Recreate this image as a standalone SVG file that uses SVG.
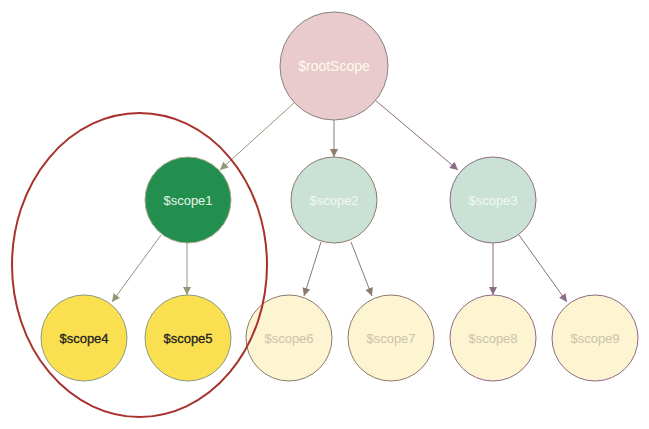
<svg xmlns="http://www.w3.org/2000/svg" width="649" height="429" viewBox="0 0 649 429">
<style>
text{font-family:"Liberation Sans",Arial,sans-serif;font-size:13px;text-anchor:middle;dominant-baseline:central}
.g{stroke:#8c9a7a;fill:none}
.b{stroke:#8c7a6c;fill:none}
.m{stroke:#8c6c86;fill:none}
.leaf circle{fill:#fdf4d1;stroke:#8c7a6c}
.leaf text{fill:#cbc3ab}
.mid circle{fill:#c9e2d5}
.mid text{fill:#f4f8f4}
.sel circle{fill:#fae050;stroke:#8c9a7a}
.sel text{fill:#222;stroke:#222;stroke-width:0.3}
</style>
<defs>
<marker id="ag" viewBox="0 0 10 10" refX="10" refY="5" markerWidth="9" markerHeight="8" markerUnits="userSpaceOnUse" orient="auto"><path d="M0,0L10,5L0,10z" fill="#8c9a7a"/></marker>
<marker id="ab" viewBox="0 0 10 10" refX="10" refY="5" markerWidth="9" markerHeight="8" markerUnits="userSpaceOnUse" orient="auto"><path d="M0,0L10,5L0,10z" fill="#8c7a6c"/></marker>
<marker id="am" viewBox="0 0 10 10" refX="10" refY="5" markerWidth="9" markerHeight="8" markerUnits="userSpaceOnUse" orient="auto"><path d="M0,0L10,5L0,10z" fill="#8c6c86"/></marker>
</defs>
<rect width="649" height="429" fill="#fff"/>
<g id="connectors">
<line class="g" x1="294" y1="103" x2="220" y2="170" marker-end="url(#ag)"/>
<line class="b" x1="334" y1="120" x2="334" y2="157" marker-end="url(#ab)"/>
<line class="m" x1="375" y1="100" x2="458" y2="170" marker-end="url(#am)"/>
<line class="g" x1="161" y1="235" x2="112" y2="302" marker-end="url(#ag)"/>
<line class="g" x1="187" y1="243" x2="187" y2="295" marker-end="url(#ag)"/>
<line class="b" x1="321" y1="242" x2="304" y2="296" marker-end="url(#ab)"/>
<line class="b" x1="351" y1="242" x2="372" y2="296" marker-end="url(#ab)"/>
<line class="m" x1="493" y1="243" x2="493" y2="295" marker-end="url(#am)"/>
<line class="m" x1="519" y1="235" x2="567" y2="302" marker-end="url(#am)"/>
</g>
<g id="rootScope"><circle cx="334" cy="66" r="54" fill="#eacbcd" stroke="#8a8282"/><text x="334" y="66" fill="#fffaec" style="font-size:14px">$rootScope</text></g>
<g id="scope1"><circle cx="188" cy="200" r="43" fill="#228f4f" stroke="#b0a890"/><text x="188" y="200" fill="#e8f4ea">$scope1</text></g>
<g id="scope2" class="mid"><circle cx="334" cy="200" r="43" stroke="#8c7a6c"/><text x="334" y="200">$scope2</text></g>
<g id="scope3" class="mid"><circle cx="493" cy="200" r="43" stroke="#8c6c86"/><text x="493" y="200">$scope3</text></g>
<g id="scope4" class="sel"><circle cx="84" cy="338" r="43"/><text x="84" y="338">$scope4</text></g>
<g id="scope5" class="sel"><circle cx="188" cy="338" r="43"/><text x="188" y="338">$scope5</text></g>
<g id="scope6" class="leaf"><circle cx="289" cy="338" r="43"/><text x="289" y="338">$scope6</text></g>
<g id="scope7" class="leaf"><circle cx="391" cy="338" r="43"/><text x="391" y="338">$scope7</text></g>
<g id="scope8" class="leaf"><circle cx="493" cy="338" r="43" style="stroke:#8c6c86"/><text x="493" y="338">$scope8</text></g>
<g id="scope9" class="leaf"><circle cx="595" cy="338" r="43" style="stroke:#8c6c86"/><text x="595" y="338">$scope9</text></g>
<ellipse id="selection" cx="139.5" cy="265" rx="127.5" ry="152" fill="none" stroke="#a8332d" stroke-width="2"/>
</svg>
